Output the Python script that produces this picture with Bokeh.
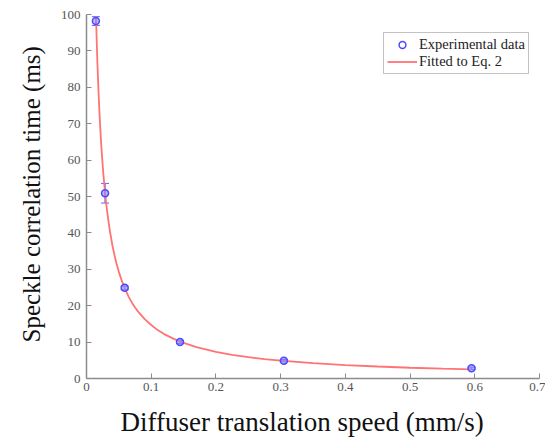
from bokeh.plotting import figure
from bokeh.models import ColumnDataSource, Whisker, FixedTicker, Range1d, Legend, LegendItem, Title
from bokeh.embed import file_html
from bokeh.resources import INLINE

# Experimental data
speed = [0.0145, 0.0287, 0.059, 0.1445, 0.305, 0.595]
corr_time = [98.2, 50.9, 24.9, 10.0, 4.9, 2.8]
err = [1.2, 2.7, 0.5, 0.4, 0.3, 0.3]

# Fitted curve
fit_x = [0.0145, 0.015, 0.016, 0.017, 0.018, 0.019, 0.02, 0.021, 0.022, 0.023,
         0.024, 0.025, 0.026, 0.028, 0.03, 0.032, 0.034, 0.036, 0.038, 0.04,
         0.043, 0.046, 0.05, 0.055, 0.06, 0.065, 0.07, 0.075, 0.08, 0.09,
         0.1, 0.11, 0.12, 0.135, 0.15, 0.17, 0.2, 0.225, 0.25, 0.275, 0.3,
         0.35, 0.4, 0.45, 0.5, 0.55, 0.595]
fit_y = [99.5, 97.5, 91.5, 86.0, 81.3, 77.0, 73.2, 69.7, 66.5, 63.6,
         61.0, 58.6, 56.3, 52.3, 48.8, 45.8, 43.1, 40.7, 38.6, 36.6,
         34.1, 31.8, 29.3, 26.6, 24.4, 22.5, 20.9, 19.5, 18.3, 16.3,
         14.7, 13.3, 12.2, 10.9, 9.8, 8.6, 7.3, 6.5, 5.9, 5.3, 4.9,
         4.2, 3.7, 3.3, 2.95, 2.7, 2.5]

x_ticks = [0, 0.1, 0.2, 0.3, 0.4, 0.5, 0.6, 0.7]
x_tick_labels = ["0", "0.1", "0.2", "0.3", "0.4", "0.5", "0.6", "0.7"]
y_ticks = [0, 10, 20, 30, 40, 50, 60, 70, 80, 90, 100]
x_title = "Diffuser translation speed (mm/s)"
y_title = "Speckle correlation time (ms)"

p = figure(width=545, height=447, output_backend="svg", toolbar_location=None,
           x_range=Range1d(0, 0.7), y_range=Range1d(0, 100),
           min_border_left=86, min_border_right=6, min_border_top=14, min_border_bottom=69)
p.outline_line_color = None
p.xgrid.grid_line_color = None
p.ygrid.grid_line_color = None

lo = [c - e for c, e in zip(corr_time, err)]
hi = [c + e for c, e in zip(corr_time, err)]
src = ColumnDataSource(dict(x=speed, y=corr_time, lo=lo, hi=hi))

curve = p.line(fit_x, fit_y, line_color="#ff7373", line_width=1.8)
w = Whisker(source=src, base="x", lower="lo", upper="hi", line_color="#6a5cff", line_width=1.3)
w.upper_head.line_color = "#6a5cff"
w.lower_head.line_color = "#6a5cff"
w.upper_head.size = 8
w.lower_head.size = 8
p.add_layout(w)
pts = p.scatter("x", "y", source=src, size=7, line_color="#4a4aff", line_width=1.5,
                fill_color="#8a8aff", fill_alpha=0.6)

legend_pts = p.scatter([float("nan")], [float("nan")], size=6, line_color="#4a4aff",
                       line_width=1.5, fill_color=None)

legend = Legend(items=[LegendItem(label="Experimental data", renderers=[legend_pts]),
                       LegendItem(label="Fitted to Eq. 2", renderers=[curve])],
                location=(297, 304))
legend.label_text_font = "Liberation Serif"
legend.label_text_font_size = "14.5px"
legend.label_text_color = "#222222"
legend.border_line_color = "#888888"
legend.border_line_width = 1.5
legend.padding = 3
legend.spacing = 0
legend.label_height = 17
legend.glyph_height = 17
legend.glyph_width = 30
legend.label_standoff = 2
legend.margin = 0
p.add_layout(legend, "center")

for ax in (p.xaxis[0], p.yaxis[0]):
    ax.axis_line_color = "#8c8c8c"
    ax.axis_line_width = 1.5
    ax.major_tick_line_color = "#8c8c8c"
    ax.major_tick_in = 5
    ax.major_tick_out = 0
    ax.minor_tick_line_color = None
    ax.major_label_text_font = "Liberation Serif"
    ax.major_label_text_font_size = "13px"
    ax.major_label_text_color = "#555555"

p.xaxis.ticker = FixedTicker(ticks=x_ticks)
p.xaxis.major_label_overrides = {t: l for t, l in zip(x_ticks, x_tick_labels)}
p.yaxis.ticker = FixedTicker(ticks=y_ticks)
p.xaxis.major_label_standoff = 4
p.yaxis.major_label_standoff = 6

# Axis titles, as titles in the side panels so they can be nudged off-centre
xt = Title(text=x_title, align="left", offset=34, standoff=22,
           text_font="Liberation Serif", text_font_size="27px",
           text_font_style="normal", text_color="#111111")
yt = Title(text=y_title, align="left", offset=36, standoff=26,
           text_font="Liberation Serif", text_font_size="25px",
           text_font_style="normal", text_color="#111111")
p.add_layout(xt, "below")
p.add_layout(yt, "left")

open("out.html", "w").write(file_html(p, INLINE))
